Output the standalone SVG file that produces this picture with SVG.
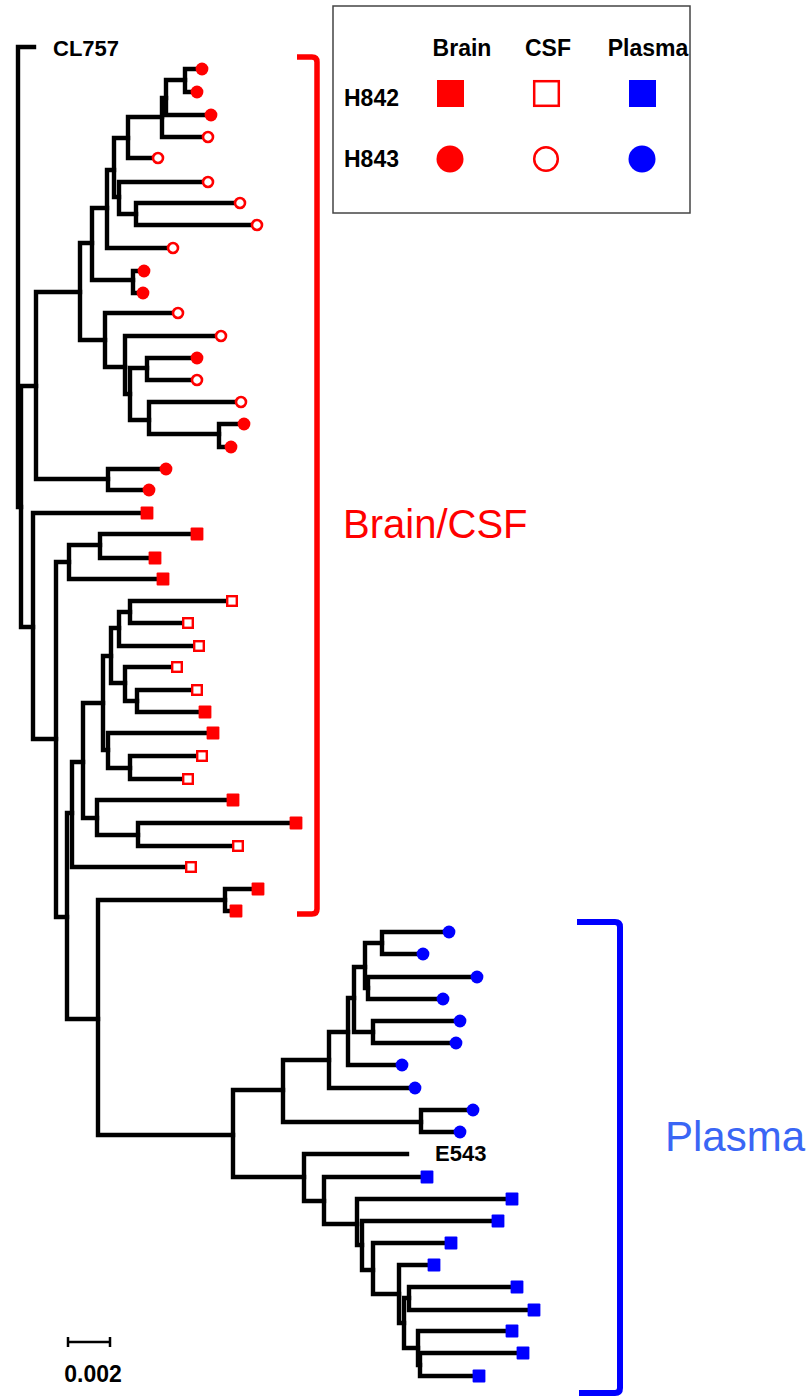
<svg xmlns="http://www.w3.org/2000/svg" xmlns:xlink="http://www.w3.org/1999/xlink" width="809" height="1399" viewBox="0 0 809 1399">
  <style>
    .br { fill: none; stroke: #000; stroke-width: 4.4; stroke-linecap: square; }
    .lbl { font-family: "Liberation Sans", Arial, sans-serif; font-weight: bold; fill: #000; }
    .big { font-family: "Liberation Sans", Arial, sans-serif; font-size: 40px; }
  </style>
  <defs>
    <!-- tip markers: colour = tissue, shape = patient, fill = brain/plasma vs CSF -->
    <circle id="fc" r="6.4" fill="#ff0000"/>
    <circle id="oc" r="5" fill="#fff" stroke="#ff0000" stroke-width="2.6"/>
    <rect id="fs" x="-6.4" y="-6.4" width="12.8" height="12.8" rx="1" fill="#ff0000"/>
    <rect id="os" x="-4.8" y="-4.8" width="9.6" height="9.6" fill="#fff" stroke="#ff0000" stroke-width="2.4"/>
    <circle id="bc" r="6.4" fill="#0000ff"/>
    <rect id="bs" x="-6.4" y="-6.4" width="12.8" height="12.8" rx="1" fill="#0000ff"/>
  </defs>
  <rect width="809" height="1399" fill="#fff"/>

  <!-- legend -->
  <g id="legend">
    <rect x="333" y="6" width="357" height="207" fill="#fff" stroke="#444" stroke-width="1.5"/>
    <text class="lbl" font-size="23" x="462" y="56" text-anchor="middle">Brain</text>
    <text class="lbl" font-size="23" x="548" y="56" text-anchor="middle">CSF</text>
    <text class="lbl" font-size="23" x="648" y="56" text-anchor="middle">Plasma</text>
    <text class="lbl" font-size="23" x="344" y="106">H842</text>
    <text class="lbl" font-size="23" x="344" y="167">H843</text>
    <rect x="437" y="80" width="27" height="27" fill="#ff0000"/>
    <rect x="534.2" y="81.2" width="24.6" height="24.6" fill="#fff" stroke="#ff0000" stroke-width="2.5"/>
    <rect x="629" y="80" width="27" height="27" fill="#0000ff"/>
    <circle cx="450" cy="159" r="13.5" fill="#ff0000"/>
    <circle cx="546" cy="159" r="11.8" fill="#fff" stroke="#ff0000" stroke-width="2.5"/>
    <circle cx="642" cy="159" r="13.5" fill="#0000ff"/>
  </g>

  <!-- branches of the tree -->
  <g id="connectors" class="br">
    <path d="M18 47 V507 M18 47 H34 M18 507 H21"/>
    <path d="M21 386 V627 M21 386 H36 M21 627 H33"/>
    <path d="M36 292 V479 M36 292 H80 M36 479 H108"/>
    <path d="M108 469 V490 H149 M108 469 H166"/>
    <path d="M80 243 V340 H105 M80 243 H92"/>
    <path d="M92 208 V280 H133 M92 208 H107"/>
    <path d="M133 271 V293 H143 M133 271 H144"/>
    <path d="M107 170 V248 H173 M107 170 H114"/>
    <path d="M114 138 V197 H119 M114 138 H128"/>
    <path d="M128 117 V158 H158 M128 117 H162"/>
    <path d="M162 98 V137 H208 M162 98 H166"/>
    <path d="M166 80 V115 H211 M166 80 H185"/>
    <path d="M185 69 V92 H197 M185 69 H202"/>
    <path d="M119 182 V214 H136 M119 182 H208"/>
    <path d="M136 203 V225 H257 M136 203 H240"/>
    <path d="M105 313 V367 H125 M105 313 H178"/>
    <path d="M125 336 V394 H130 M125 336 H221"/>
    <path d="M130 368 V420 H149 M130 368 H147"/>
    <path d="M147 358 V380 H197 M147 358 H197"/>
    <path d="M149 402 V434 H219 M149 402 H241"/>
    <path d="M219 424 V447 H231 M219 424 H244"/>

    <path d="M33 513 V739 H56 M33 513 H147"/>
    <path d="M56 562 V917 H67 M56 562 H69"/>
    <path d="M69 545 V579 H163 M69 545 H100"/>
    <path d="M100 534 V558 H155 M100 534 H197"/>
    <path d="M67 813 V1019 H98 M67 813 H72"/>
    <path d="M72 762 V867 H191 M72 762 H83"/>
    <path d="M83 703 V818 H97 M83 703 H103"/>
    <path d="M97 800 V835 H138 M97 800 H233"/>
    <path d="M138 823 V846 H238 M138 823 H296"/>
    <path d="M103 656 V750 H108 M103 656 H111"/>
    <path d="M111 628 V683 H125 M111 628 H119"/>
    <path d="M119 612 V646 H199 M119 612 H130"/>
    <path d="M130 601 V623 H188 M130 601 H232"/>
    <path d="M125 667 V701 H137 M125 667 H177"/>
    <path d="M137 690 V712 H205 M137 690 H197"/>
    <path d="M108 733 V768 H130 M108 733 H213"/>
    <path d="M130 756 V779 H188 M130 756 H202"/>

    <path d="M98 900 V1135 H233 M98 900 H225"/>
    <path d="M225 889 V911 H236 M225 889 H258"/>
    <path d="M233 1090 V1177 H304 M233 1090 H283"/>
    <path d="M283 1060 V1122 H421 M283 1060 H329"/>
    <path d="M421 1110 V1132 H460 M421 1110 H473"/>
    <path d="M329 1032 V1088 H415 M329 1032 H348"/>
    <path d="M348 998 V1065 H402 M348 998 H354"/>
    <path d="M354 967 V1032 H373 M354 967 H365"/>
    <path d="M373 1021 V1043 H456 M373 1021 H460"/>
    <path d="M365 943 V988 H368 M365 943 H382"/>
    <path d="M382 932 V954 H423 M382 932 H449"/>
    <path d="M368 977 V999 H443 M368 977 H477"/>
    <path d="M304 1154 V1201 H324 M304 1154 H407"/>
    <path d="M324 1177 V1224 H357 M324 1177 H427"/>
    <path d="M357 1199 V1245 H362 M357 1199 H512"/>
    <path d="M362 1221 V1270 H373 M362 1221 H498"/>
    <path d="M373 1243 V1294 H399 M373 1243 H451"/>
    <path d="M399 1265 V1323 H404 M399 1265 H434"/>
    <path d="M404 1298 V1348 H418 M404 1298 H409"/>
    <path d="M409 1287 V1310 H534 M409 1287 H517"/>
    <path d="M418 1331 V1365 H420 M418 1331 H512"/>
    <path d="M420 1353 V1376 H479 M420 1353 H523"/>
  </g>

  <!-- named tips -->
  <g id="CL757"><text class="lbl" font-size="22" x="53" y="56">CL757</text></g>
  <g id="E543"><text class="lbl" font-size="22" x="435" y="1161">E543</text></g>

  <!-- H843 brain / CSF tips -->
  <g id="t01"><use xlink:href="#fc" x="202" y="69"/></g>
  <g id="t02"><use xlink:href="#fc" x="197" y="92"/></g>
  <g id="t03"><use xlink:href="#fc" x="211" y="115"/></g>
  <g id="t04"><use xlink:href="#oc" x="208" y="137"/></g>
  <g id="t05"><use xlink:href="#oc" x="158" y="158"/></g>
  <g id="t06"><use xlink:href="#oc" x="208" y="182"/></g>
  <g id="t07"><use xlink:href="#oc" x="240" y="203"/></g>
  <g id="t08"><use xlink:href="#oc" x="257" y="225"/></g>
  <g id="t09"><use xlink:href="#oc" x="173" y="248"/></g>
  <g id="t10"><use xlink:href="#fc" x="144" y="271"/></g>
  <g id="t11"><use xlink:href="#fc" x="143" y="293"/></g>
  <g id="t12"><use xlink:href="#oc" x="178" y="313"/></g>
  <g id="t13"><use xlink:href="#oc" x="221" y="336"/></g>
  <g id="t14"><use xlink:href="#fc" x="197" y="358"/></g>
  <g id="t15"><use xlink:href="#oc" x="197" y="380"/></g>
  <g id="t16"><use xlink:href="#oc" x="241" y="402"/></g>
  <g id="t17"><use xlink:href="#fc" x="244" y="424"/></g>
  <g id="t18"><use xlink:href="#fc" x="231" y="447"/></g>
  <g id="t19"><use xlink:href="#fc" x="166" y="469"/></g>
  <g id="t20"><use xlink:href="#fc" x="149" y="490"/></g>

  <!-- H842 brain / CSF tips -->
  <g id="t21"><use xlink:href="#fs" x="147" y="513"/></g>
  <g id="t22"><use xlink:href="#fs" x="197" y="534"/></g>
  <g id="t23"><use xlink:href="#fs" x="155" y="558"/></g>
  <g id="t24"><use xlink:href="#fs" x="163" y="579"/></g>
  <g id="t25"><use xlink:href="#os" x="232" y="601"/></g>
  <g id="t26"><use xlink:href="#os" x="188" y="623"/></g>
  <g id="t27"><use xlink:href="#os" x="199" y="646"/></g>
  <g id="t28"><use xlink:href="#os" x="177" y="667"/></g>
  <g id="t29"><use xlink:href="#os" x="197" y="690"/></g>
  <g id="t30"><use xlink:href="#fs" x="205" y="712"/></g>
  <g id="t31"><use xlink:href="#fs" x="213" y="733"/></g>
  <g id="t32"><use xlink:href="#os" x="202" y="756"/></g>
  <g id="t33"><use xlink:href="#os" x="188" y="779"/></g>
  <g id="t34"><use xlink:href="#fs" x="233" y="800"/></g>
  <g id="t35"><use xlink:href="#fs" x="296" y="823"/></g>
  <g id="t36"><use xlink:href="#os" x="238" y="846"/></g>
  <g id="t37"><use xlink:href="#os" x="191" y="867"/></g>
  <g id="t38"><use xlink:href="#fs" x="258" y="889"/></g>
  <g id="t39"><use xlink:href="#fs" x="236" y="911"/></g>

  <!-- plasma tips -->
  <g id="t40"><use xlink:href="#bc" x="449" y="932"/></g>
  <g id="t41"><use xlink:href="#bc" x="423" y="954"/></g>
  <g id="t42"><use xlink:href="#bc" x="477" y="977"/></g>
  <g id="t43"><use xlink:href="#bc" x="443" y="999"/></g>
  <g id="t44"><use xlink:href="#bc" x="460" y="1021"/></g>
  <g id="t45"><use xlink:href="#bc" x="456" y="1043"/></g>
  <g id="t46"><use xlink:href="#bc" x="402" y="1065"/></g>
  <g id="t47"><use xlink:href="#bc" x="415" y="1088"/></g>
  <g id="t48"><use xlink:href="#bc" x="473" y="1110"/></g>
  <g id="t49"><use xlink:href="#bc" x="460" y="1132"/></g>
  <g id="t50"><use xlink:href="#bs" x="427" y="1177"/></g>
  <g id="t51"><use xlink:href="#bs" x="512" y="1199"/></g>
  <g id="t52"><use xlink:href="#bs" x="498" y="1221"/></g>
  <g id="t53"><use xlink:href="#bs" x="451" y="1243"/></g>
  <g id="t54"><use xlink:href="#bs" x="434" y="1265"/></g>
  <g id="t55"><use xlink:href="#bs" x="517" y="1287"/></g>
  <g id="t56"><use xlink:href="#bs" x="534" y="1310"/></g>
  <g id="t57"><use xlink:href="#bs" x="512" y="1331"/></g>
  <g id="t58"><use xlink:href="#bs" x="523" y="1353"/></g>
  <g id="t59"><use xlink:href="#bs" x="479" y="1376"/></g>

  <!-- clade brackets -->
  <g id="clade-brain-csf">
    <path d="M297 57 H312 Q317 57 317 62 V909 Q317 914 312 914 H297" fill="none" stroke="#ff0000" stroke-width="5.5"/>
    <text class="big" x="343" y="538" fill="#ff0000">Brain/CSF</text>
  </g>
  <g id="clade-plasma">
    <path d="M577 922 H615 Q620 922 620 927 V1388 Q620 1393 615 1393 H579" fill="none" stroke="#0000ff" stroke-width="6"/>
    <text class="big" x="665" y="1151" style="font-size:42px" fill="#3a66f5">Plasma</text>
  </g>

  <!-- scale bar -->
  <g id="scale">
    <path d="M68 1342 H110 M68 1337 V1347 M110 1337 V1347" fill="none" stroke="#000" stroke-width="2.5"/>
    <text class="lbl" font-size="23" x="93" y="1382" text-anchor="middle">0.002</text>
  </g>
</svg>
